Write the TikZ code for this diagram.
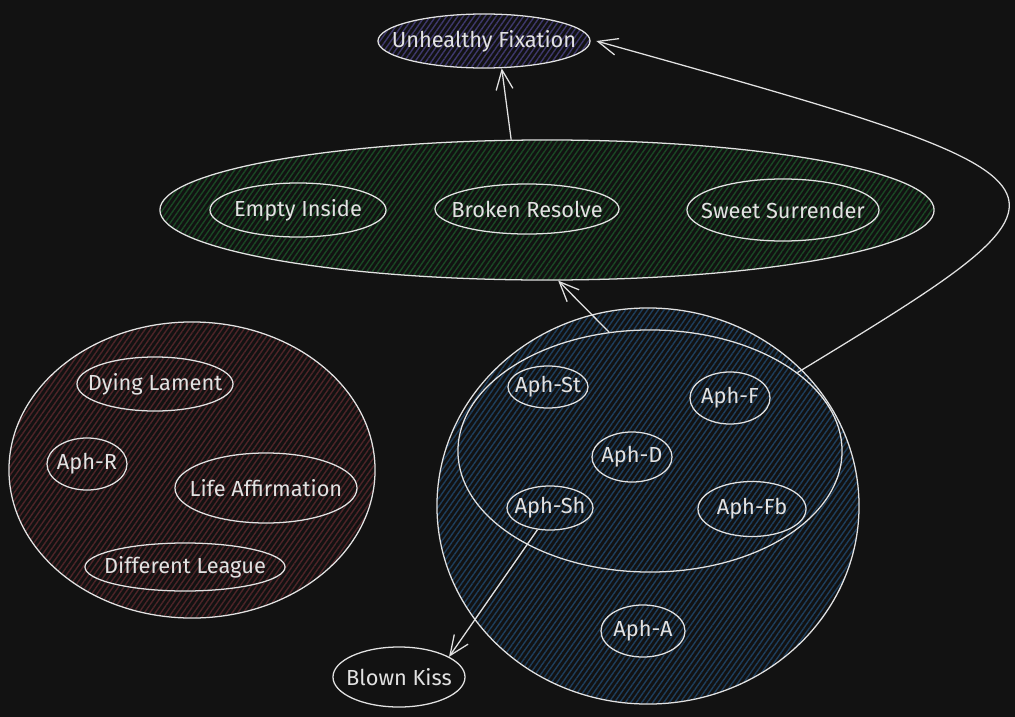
\documentclass[tikz,border=0pt]{standalone}
\usepackage{fontspec}
\setmainfont{Fira Sans}
\usetikzlibrary{shapes.geometric, arrows.meta, patterns.meta}
\definecolor{canvas}{RGB}{18,18,18}
\definecolor{ink}{RGB}{226,226,226}
\definecolor{fixhatch}{RGB}{62,56,108}
\definecolor{grphatch}{RGB}{26,72,36}
\definecolor{redhatch}{RGB}{78,36,40}
\definecolor{bluehatch}{RGB}{30,62,92}
\tikzset{
  blob/.style={ellipse, draw=ink, line width=0.9pt, inner sep=0pt},
  tag/.style={label={[text=ink, font=\fontsize{15.5pt}{18pt}\selectfont]center:#1}},
  hatched/.style={pattern={Lines[angle=55,distance=3.2pt,line width=1pt]},
    pattern color=#1},
  arrow/.style={-{Straight Barb[length=14pt,width=12pt]}, line width=0.9pt, draw=ink},
}
\begin{document}
\begin{tikzpicture}[x=0.025cm, y=-0.025cm]
  \useasboundingbox (0,0) rectangle (1015,717);
  \fill[canvas] (0,0) rectangle (1015,717);

  % top
  \node[blob, hatched=fixhatch, minimum width=5.3cm, minimum height=1.35cm,
    tag={Unhealthy Fixation}] (fix) at (484,41) {};

  % green group
  \node[blob, hatched=grphatch, minimum width=19.35cm, minimum height=3.5cm]
    (grp) at (547,210) {};
  \node[blob, minimum width=4.4cm, minimum height=1.35cm, tag={Empty Inside}] (empty) at (298,210) {};
  \node[blob, minimum width=4.6cm, minimum height=1.25cm, tag={Broken Resolve}] (broken) at (527,209) {};
  \node[blob, minimum width=4.8cm, minimum height=1.55cm, tag={Sweet Surrender}] (sweet) at (783,210) {};

  % red group
  \node[blob, hatched=redhatch, minimum width=9.15cm, minimum height=7.4cm]
    (red) at (192,470) {};
  \node[blob, minimum width=3.9cm, minimum height=1.35cm, tag={Dying Lament}] (dying) at (155,384) {};
  \node[blob, minimum width=2.0cm, minimum height=1.3cm, tag={Aph-R}] (aphr) at (87,464) {};
  \node[blob, minimum width=4.55cm, minimum height=1.75cm, tag={Life Affirmation}] (life) at (266,488) {};
  \node[blob, minimum width=5.0cm, minimum height=1.2cm, tag={Different League}] (league) at (185,567) {};

  % blue group
  \node[blob, hatched=bluehatch, minimum width=10.55cm, minimum height=9.9cm]
    (blue) at (648,506) {};
  \node[blob, minimum width=9.6cm, minimum height=6.05cm] (inner) at (650,451) {};
  \node[blob, minimum width=2.0cm, minimum height=1.05cm, tag={Aph-St}] (aphst) at (548,387) {};
  \node[blob, minimum width=2.0cm, minimum height=1.3cm, tag={Aph-F}] (aphf) at (730,398) {};
  \node[blob, minimum width=2.0cm, minimum height=1.25cm, tag={Aph-D}] (aphd) at (632,457) {};
  \node[blob, minimum width=2.15cm, minimum height=1.1cm, tag={Aph-Sh}] (aphsh) at (550,508) {};
  \node[blob, minimum width=2.7cm, minimum height=1.375cm, tag={Aph-Fb}] (aphfb) at (752,509) {};
  \node[blob, minimum width=2.1cm, minimum height=1.3cm, tag={Aph-A}] (apha) at (643,631) {};

  \node[blob, minimum width=3.3cm, minimum height=1.5cm, tag={Blown Kiss}] (kiss) at (399,677) {};

  \draw[arrow] (grp.117) -- (fix.-57);
  \draw[arrow] (inner.109) -- (grp.-81);
  \draw[arrow] (aphsh.-120) -- (kiss.22);
  \draw[arrow] (inner.28) .. controls (1107,184) .. ([xshift=4pt]fix.east);
\end{tikzpicture}
\end{document}
